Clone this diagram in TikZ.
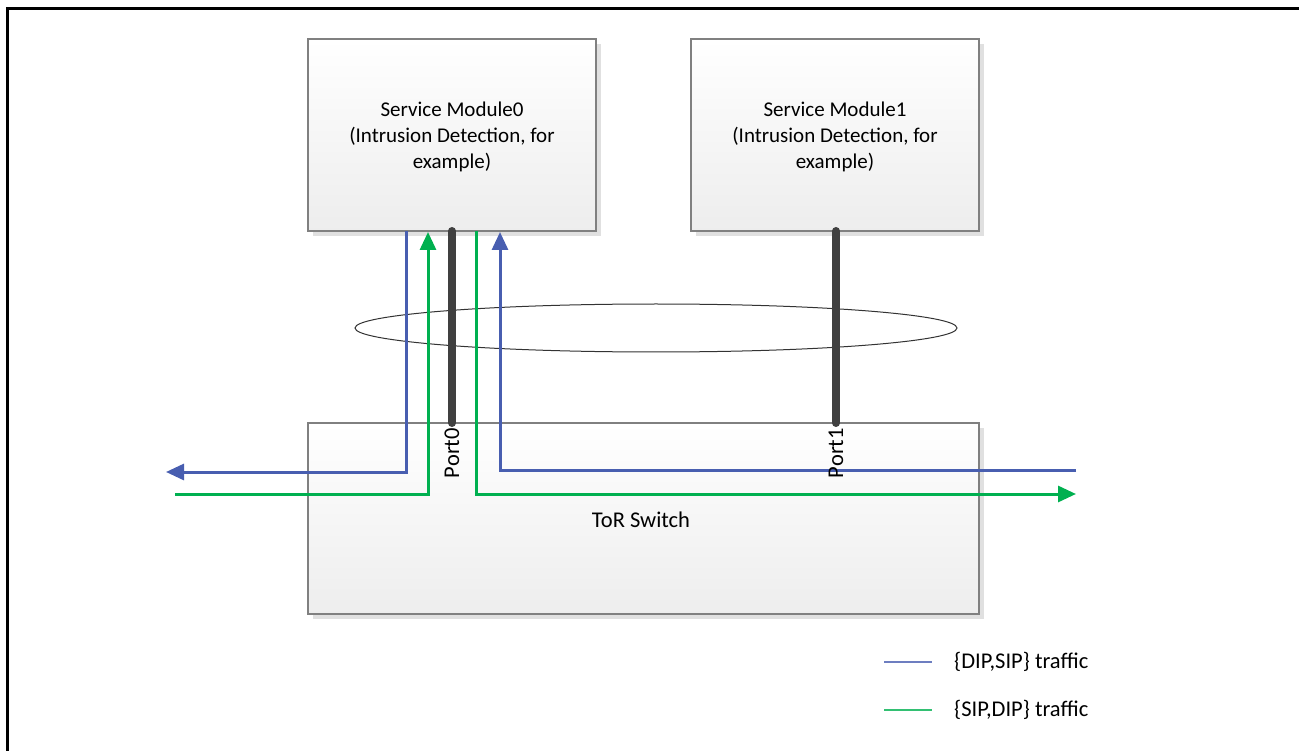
\documentclass[tikz,border=0pt]{standalone}
\usepackage{fontspec}
\setmainfont{Carlito}
\usetikzlibrary{arrows.meta,shapes.geometric,shadows}
\definecolor{tblue}{RGB}{72,94,176}
\definecolor{tgreen}{RGB}{0,176,80}
\definecolor{boxline}{RGB}{128,128,128}
\definecolor{portline}{RGB}{64,64,64}
\begin{document}
\begin{tikzpicture}[x=1pt,y=-1pt,
  modbox/.style={draw=boxline, line width=1.5pt, top color=white, bottom color=black!7,
    minimum width=288pt, minimum height=192pt, inner sep=0pt,
    drop shadow={shadow xshift=5pt, shadow yshift=-5pt, fill=black!12, opacity=1}},
  boxtext/.style={align=center, inner sep=0pt, font=\fontsize{21}{26}\selectfont},
  bluel/.style={draw=tblue, line width=3pt},
  greenl/.style={draw=tgreen, line width=3pt},
  tipb/.style={-{Triangle[length=18pt,width=16pt]}},
  portl/.style={draw=portline, line width=8pt, line cap=round},
  lab/.style={font=\fontsize{22.5}{27}\selectfont, inner sep=0pt},
]
\useasboundingbox (0,0) rectangle (1299,751);
% frame
\draw[line width=3pt] (7,760) -- (7,9) -- (1310,9);

% boxes
\node[modbox] (sm0) at (452,135) {};
\node[modbox] (sm1) at (835,135) {};
\node[modbox, minimum width=671pt, minimum height=191pt] (tor) at (643.5,518.5) {};
\node[boxtext] (sm0lab) at (452,137) {Service Module0\\(Intrusion Detection, for\\example)};
\node[boxtext] (sm1lab) at (835,137) {Service Module1\\(Intrusion Detection, for\\example)};
\node[lab] (torlab) at (641,520) {ToR Switch};

% ring
\node[ellipse, draw=black!80, line width=1pt, minimum width=602pt, minimum height=48pt, inner sep=0pt] (ring) at (656,328) {};

% coordinates
\coordinate (p0top) at (452,231);
\coordinate (p0bot) at (452,423);
\coordinate (p1top) at (836,231);
\coordinate (p1bot) at (836,423);
\coordinate (bout) at (166,472);
\coordinate (gin) at (175,494);
\coordinate (gout) at (1076,494);
\coordinate (bin) at (1076,470);
\coordinate (b1s) at (406,231);
\coordinate (g1e) at (428,232);
\coordinate (g2s) at (476,231);
\coordinate (b2e) at (500,232);

% traffic lines
\draw[bluel, tipb] (b1s) |- (bout);
\draw[greenl, tipb] (gin) -| (g1e);
\draw[greenl, tipb] (g2s) |- (gout);
\draw[bluel, tipb] (bin) -| (b2e);

% ports
\draw[portl] (p0top) -- (p0bot);
\draw[portl] (p1top) -- (p1bot);
\node[lab, rotate=90, anchor=east] (port0) at (452,428) {Port0};
\node[lab, rotate=90, anchor=east] (port1) at (836,428) {Port1};

% legend
\coordinate (lb1) at (884,662);
\coordinate (lb2) at (932,662);
\coordinate (lg1) at (884,710);
\coordinate (lg2) at (932,710);
\draw[draw=tblue!80, line width=1.5pt] (lb1) -- (lb2);
\draw[draw=tgreen!80, line width=1.5pt] (lg1) -- (lg2);
\node[lab, anchor=west] (legb) at (954,662) {\{DIP,SIP\} traffic};
\node[lab, anchor=west] (legg) at (954,710) {\{SIP,DIP\} traffic};
\end{tikzpicture}
\end{document}
